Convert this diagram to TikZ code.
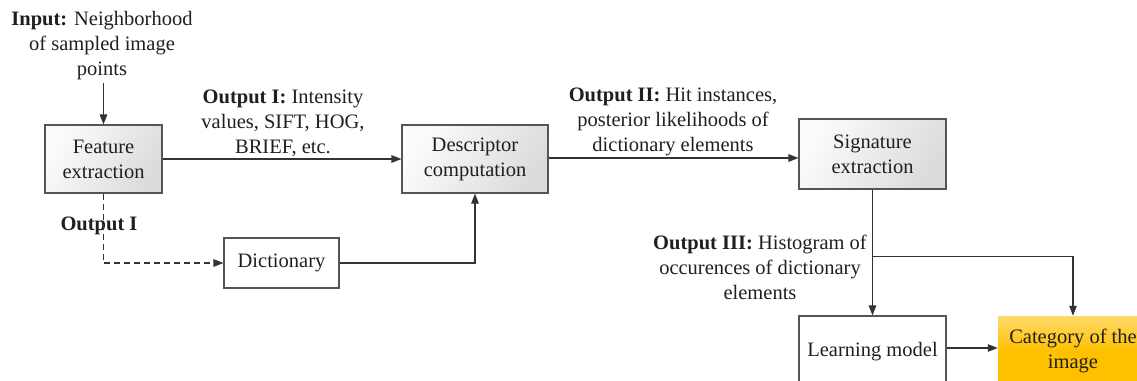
\documentclass[tikz,border=0pt]{standalone}
\usepackage{fontspec}
\setmainfont{Liberation Serif}
\usetikzlibrary{arrows.meta,calc}
\definecolor{linec}{HTML}{333333}
\definecolor{boxline}{HTML}{555555}
\definecolor{gold}{HTML}{FFC000}
\definecolor{goldlight}{HTML}{FFDA6A}
\tikzset{
  txt/.style={font=\fontsize{20.5}{25}\selectfont, align=center, inner sep=0pt, text=black!88},
  graybox/.style={txt, draw=boxline, line width=1.1pt, minimum height=68pt,
     left color=white!97!gray, right color=gray!28, shading angle=60},
  plainbox/.style={txt, draw=boxline, line width=1.1pt, fill=white},
  catbox/.style={txt, top color=goldlight, bottom color=gold, middle color=gold},
  arr/.style={draw=linec, line width=1.1pt, -{Triangle[length=10pt,width=7.5pt]}},
  conn/.style={draw=linec, line width=1.1pt},
  lbl/.style={txt}
}
\begin{document}
\begin{tikzpicture}[x=1pt,y=-1pt]
\useasboundingbox (0,0) rectangle (1137,380);
% boxes
\node[graybox, minimum width=117pt] (fe) at (103.5,159) {Feature\\extraction};
\node[graybox, minimum width=146pt] (dc) at (475,159) {Descriptor\\computation};
\node[graybox, minimum width=147pt, minimum height=70pt] (sig) at (872.5,154) {Signature\\extraction};
\node[plainbox, minimum width=115pt, minimum height=50pt] (dict) at (281.5,263) {Dictionary};
\node[plainbox, minimum width=147pt, minimum height=72pt] (lm) at (872.5,352) {Learning model};
\node[catbox, minimum width=150pt, minimum height=70pt] (cat) at (1073,351) {Category of the\\image};
% labels
\node[lbl] (inp) at (102,46) {\textbf{Input:} Neighborhood\\of sampled image\\points};
\node[lbl] (l1) at (283,123) {\textbf{Output I:} Intensity\\values, SIFT, HOG,\\BRIEF, etc.};
\node[lbl] (l2) at (673,122) {\textbf{Output II:} Hit instances,\\posterior likelihoods of\\dictionary elements};
\node[lbl] (l3) at (760,267) {\textbf{Output III:} Histogram of\\occurences of dictionary\\elements};
\node[lbl] (l4) at (99,226) {\textbf{Output I}};
% connectors
\draw[arr] (fe.north |- inp.south) ++(0,3) -- (fe.north);
\draw[arr] (fe) -- (dc);
\draw[arr] ($(dc.east)+(0,-1)$) -- ($(dc.east -| sig.west)+(0,-1)$);
\draw[arr, dashed, dash pattern=on 6pt off 4pt] (fe.south) |- (dict.west);
\draw[arr] (dict.east) -| (dc.south);
\draw[arr] (sig.south) -- (lm.north);
\coordinate (br) at ($(sig.south)+(0,67)$);
\draw[arr] (br) -| (cat.north);
\draw[arr] (lm.east |- 0,348) -- (cat.west |- 0,348);
\end{tikzpicture}
\end{document}
